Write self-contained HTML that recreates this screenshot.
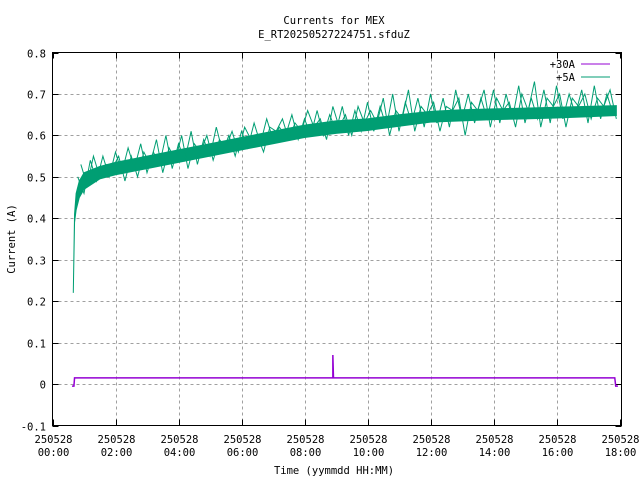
<!DOCTYPE html>
<html><head><meta charset="utf-8"><style>
body{margin:0;background:#fff}
svg text{font-family:"DejaVu Sans Mono","Liberation Mono",monospace;font-size:10.5px;fill:#000}
</style></head><body>
<svg id="chart" width="640" height="480" viewBox="0 0 640 480" xmlns="http://www.w3.org/2000/svg">
<rect width="640" height="480" fill="#fff"/>
<text x="334" y="24" text-anchor="middle">Currents for MEX</text>
<text x="334" y="38" text-anchor="middle">E_RT20250527224751.sfduZ</text>
<text x="334" y="474" text-anchor="middle">Time (yymmdd HH:MM)</text>
<text x="15" y="239" text-anchor="middle" transform="rotate(-90 15 239)">Current (A)</text>
<g id="grid"></g>
<g id="ticks"></g>
<g id="series"></g>
<rect x="52.5" y="52.5" width="569" height="373" fill="none" stroke="#000" stroke-width="1"/>
<g>
<text x="575" y="68" text-anchor="end">+30A</text>
<line x1="581" y1="64" x2="610" y2="64" stroke="#9400d3" stroke-width="1"/>
<text x="575" y="81" text-anchor="end">+5A</text>
<line x1="581" y1="77" x2="610" y2="77" stroke="#009e73" stroke-width="1"/>
</g>
</svg>
<script>
const yTicks=[-0.1,0,0.1,0.2,0.3,0.4,0.5,0.6,0.7,0.8];
const yTickLabels=["-0.1","0","0.1","0.2","0.3","0.4","0.5","0.6","0.7","0.8"];
const xTicks=[0,2,4,6,8,10,12,14,16,18];
const xTickLabels=["00:00","02:00","04:00","06:00","08:00","10:00","12:00","14:00","16:00","18:00"];
const xDateLabel="250528";
const bandTimes=[0.66,0.7,0.75,0.85,1,1.5,2,3,4,5,6,7,8,9,10,11,12,13,14,15,16,17,17.9];
const bandLow=[0.22,0.39,0.42,0.45,0.47,0.495,0.505,0.52,0.535,0.55,0.565,0.58,0.595,0.605,0.612,0.622,0.632,0.635,0.638,0.64,0.642,0.645,0.648];
const bandHigh=[0.22,0.41,0.46,0.49,0.51,0.525,0.535,0.55,0.565,0.58,0.595,0.61,0.625,0.635,0.64,0.65,0.658,0.662,0.664,0.666,0.668,0.67,0.672];
const spikeStart=0.8, spikeStep=0.2;
const spikeValues=[0.50,0.46,0.54,0.49,0.55,0.50,0.56,
0.51,0.57,0.52,0.58,0.51,0.56,0.53,0.60,0.52,0.58,
0.54,0.61,0.53,0.59,0.55,0.62,0.56,0.60,0.55,0.61,
0.57,0.63,0.58,0.64,0.59,0.62,0.60,0.65,0.59,0.64,
0.60,0.66,0.60,0.65,0.61,0.67,0.60,0.66,0.61,0.68,
0.61,0.67,0.62,0.70,0.61,0.68,0.63,0.69,0.62,0.70,
0.63,0.69,0.62,0.71,0.64,0.70,0.63,0.69,0.64,0.71,
0.63,0.70,0.64,0.72,0.63,0.69,0.64,0.71,0.63,0.72,
0.64,0.70,0.65,0.71,0.63,0.72,0.64,0.70,0.65];
const spike2Start=0.9, spike2Step=0.2;
const spike2Values=[0.53,0.48,0.55,0.50,0.53,0.52,0.55,
0.49,0.55,0.50,0.56,0.53,0.59,0.51,0.57,0.54,0.60,
0.52,0.58,0.56,0.60,0.54,0.59,0.57,0.61,0.56,0.62,
0.59,0.60,0.56,0.62,0.61,0.64,0.59,0.63,0.61,0.66,
0.62,0.64,0.59,0.67,0.62,0.65,0.60,0.67,0.63,0.66,
0.63,0.69,0.60,0.66,0.64,0.71,0.61,0.67,0.65,0.68,
0.61,0.67,0.66,0.69,0.60,0.68,0.66,0.71,0.62,0.69,
0.66,0.68,0.62,0.70,0.66,0.73,0.62,0.69,0.67,0.70,
0.62,0.69,0.67,0.70,0.64,0.69,0.67,0.71,0.64];
const p30Times=[0.62,0.68,0.70,8.9,8.9,8.92,17.85,17.88,17.95];
const p30Values=[-0.005,-0.005,0.015,0.015,0.07,0.015,0.015,-0.005,-0.005];

const NS="http://www.w3.org/2000/svg";
const X0=52.5,XPER=31.5,Y0=425.5,YPER=41.44;
function xs(h){return X0+h*XPER;}
function ys(v){return Y0-(v+0.1)*10*YPER;}
function mk(tag,attrs,parent){const e=document.createElementNS(NS,tag);for(const k in attrs)e.setAttribute(k,attrs[k]);parent.appendChild(e);return e;}
const grid=document.getElementById('grid'),ticks=document.getElementById('ticks'),series=document.getElementById('series');
yTicks.forEach((v,i)=>{
  const y=Math.round(ys(v))+0.5;
  if(i>0&&i<yTicks.length-1){const g=mk('line',{x1:X0,x2:621.5,y1:y,y2:y,stroke:'#a0a0a0','stroke-dasharray':'3,3'},grid);
  
  }
  const t=mk('line',{x1:X0,x2:X0+6,y1:y,y2:y,stroke:'#000'},ticks);
  
  
  const t2=mk('line',{x1:615.5,x2:621.5,y1:y,y2:y,stroke:'#000'},ticks);
  
  
  const l=mk('text',{x:46,y:y+4,'text-anchor':'end'},ticks);l.textContent=yTickLabels[i];
  
  
});
xTicks.forEach((h,i)=>{
  const x=Math.round(xs(h))+0.5;
  if(i>0&&i<xTicks.length-1){const g=mk('line',{x1:x,x2:x,y1:52.5,y2:Y0,stroke:'#a0a0a0','stroke-dasharray':'3,3'},grid);
  
  }
  const t=mk('line',{x1:x,x2:x,y1:Y0,y2:Y0-6,stroke:'#000'},ticks);
  
  
  const t2=mk('line',{x1:x,x2:x,y1:52.5,y2:58.5,stroke:'#000'},ticks);
  
  
  const l1=mk('text',{x:x,y:443,'text-anchor':'middle'},ticks);l1.textContent=xDateLabel;
  
  
  const l2=mk('text',{x:x,y:456,'text-anchor':'middle'},ticks);l2.textContent=xTickLabels[i];
  
  
});
let pts=bandTimes.map((t,i)=>xs(t)+','+ys(bandHigh[i]));
for(let i=bandTimes.length-1;i>=0;i--)pts.push(xs(bandTimes[i])+','+ys(bandLow[i]));
const band=mk('polygon',{points:pts.join(' '),fill:'#009e73',stroke:'#009e73','stroke-width':1},series);


const sp=mk('polyline',{points:spikeValues.map((v,i)=>xs(spikeStart+i*spikeStep)+','+ys(v)).join(' '),fill:'none',stroke:'#009e73','stroke-width':1},series);


const sp2=mk('polyline',{points:spike2Values.map((v,i)=>xs(spike2Start+i*spike2Step)+','+ys(v)).join(' '),fill:'none',stroke:'#009e73','stroke-width':1},series);


const p=mk('polyline',{points:p30Times.map((t,i)=>xs(t)+','+ys(p30Values[i])).join(' '),fill:'none',stroke:'#9400d3','stroke-width':1.5},series);


</script>
</body></html>
